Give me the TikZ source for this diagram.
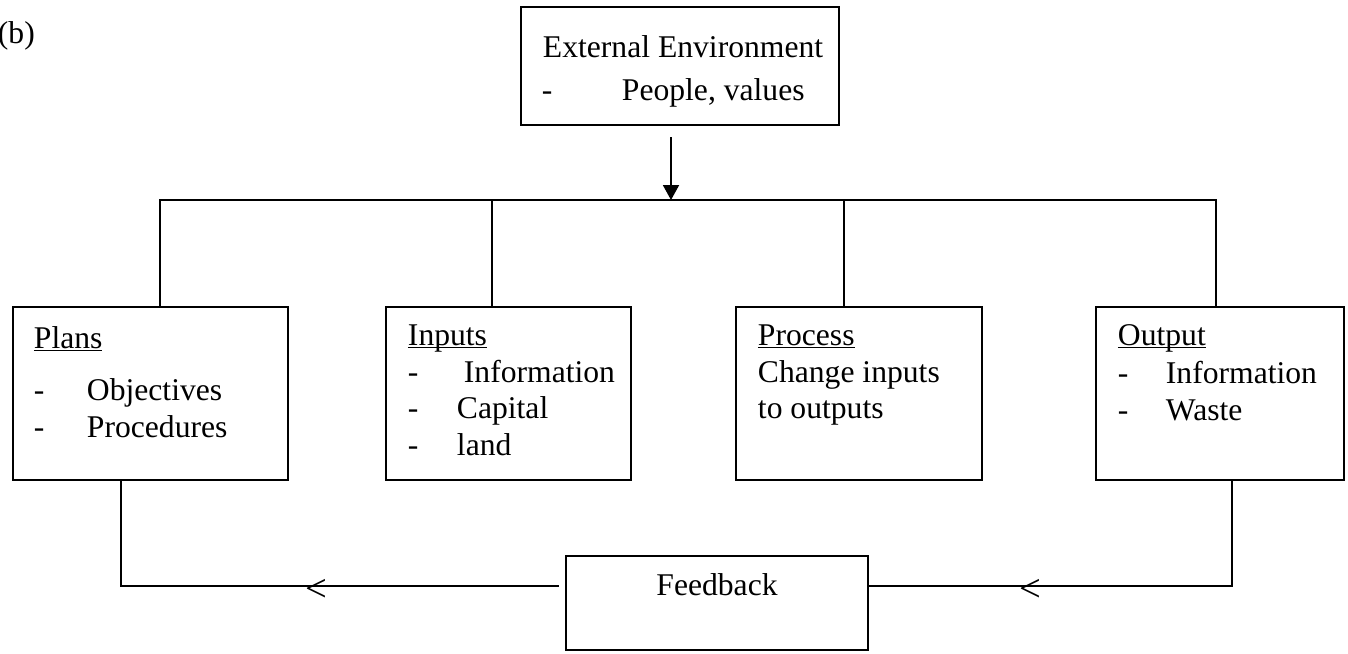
\documentclass[tikz,border=0pt]{standalone}
\usepackage{fontspec}
\setmainfont{Liberation Serif}
\usetikzlibrary{arrows.meta}
\begin{document}
\begin{tikzpicture}[x=0.02cm,y=-0.02cm,line width=1.1pt,
    box/.style={draw,inner sep=0pt},
    txt/.style={anchor=base west,inner sep=0pt,font=\fontsize{18}{21.6}\selectfont}]
    \useasboundingbox (0,0) rectangle (1348,653);
    \node[txt] (tag) at (-3,43) {(b)};
    \node[box,minimum width=6.36cm,minimum height=2.36cm] (ext) at (680,66) {};
    \node[box,minimum width=5.5cm,minimum height=3.46cm] (plans) at (150.5,393.5) {};
    \node[box,minimum width=4.9cm,minimum height=3.46cm] (inputs) at (508.5,393.5) {};
    \node[box,minimum width=4.92cm,minimum height=3.46cm] (process) at (859,393.5) {};
    \node[box,minimum width=4.96cm,minimum height=3.46cm] (output) at (1220,393.5) {};
    \node[box,minimum width=6.04cm,minimum height=1.88cm] (feedback) at (717,603) {};
    \node[txt] (ext1) at (542,57) {External Environment};
    \node[txt] (ext2) at (541,100) {\makebox[1.6cm][l]{-}People, values};
    \node[txt] (plans0) at (33,348) {\underline{\smash{Plans}}};
    \node[txt] (plans1) at (33,400) {\makebox[1.06cm][l]{-}Objectives};
    \node[txt] (plans2) at (33,437) {\makebox[1.06cm][l]{-}Procedures};
    \node[txt] (inputs0) at (407,345) {\underline{\smash{Inputs}}};
    \node[txt] (inputs1) at (407,382) {\makebox[1.12cm][l]{-}Information};
    \node[txt] (inputs2) at (407,418) {\makebox[0.98cm][l]{-}Capital};
    \node[txt] (inputs3) at (407,455) {\makebox[0.98cm][l]{-}land};
    \node[txt] (process0) at (757,345) {\underline{\smash{Process}}};
    \node[txt] (process1) at (757,382) {Change inputs};
    \node[txt] (process2) at (757,418) {to outputs};
    \node[txt] (output0) at (1117,345) {\underline{\smash{Output}}};
    \node[txt] (output1) at (1117,383) {\makebox[0.96cm][l]{-}Information};
    \node[txt] (output2) at (1117,420) {\makebox[0.96cm][l]{-}Waste};
    \node[txt,anchor=base] (fbtext) at (717,595) {Feedback};
    \node[txt,anchor=center,font=\fontsize{22}{24}\selectfont] (backL) at (316,590) {<};
    \node[txt,anchor=center,font=\fontsize{22}{24}\selectfont] (backR) at (1030,590) {<};
    \coordinate (arrtop) at (671,137);
    \coordinate (busC) at (671,200);
    \coordinate (busL) at (160,200);
    \coordinate (busI) at (492,200);
    \coordinate (busP) at (844,200);
    \coordinate (busR) at (1216,200);
    \coordinate (fbL) at (121,586);
    \coordinate (fbR) at (1232,586);
    \draw[-{Triangle[width=0.32cm,length=0.3cm]}] (arrtop) -- (busC);
    \draw (busL |- plans.north) -- (busL) -- (busR) -- (busR |- output.north);
    \draw (busI) -- (busI |- inputs.north);
    \draw (busP) -- (busP |- process.north);
    \draw (fbL |- plans.south) -- (fbL) -- ([xshift=-0.12cm]feedback.west |- fbL);
    \draw (fbR |- output.south) -- (fbR) -- (feedback.east |- fbR);
\end{tikzpicture}
\end{document}
